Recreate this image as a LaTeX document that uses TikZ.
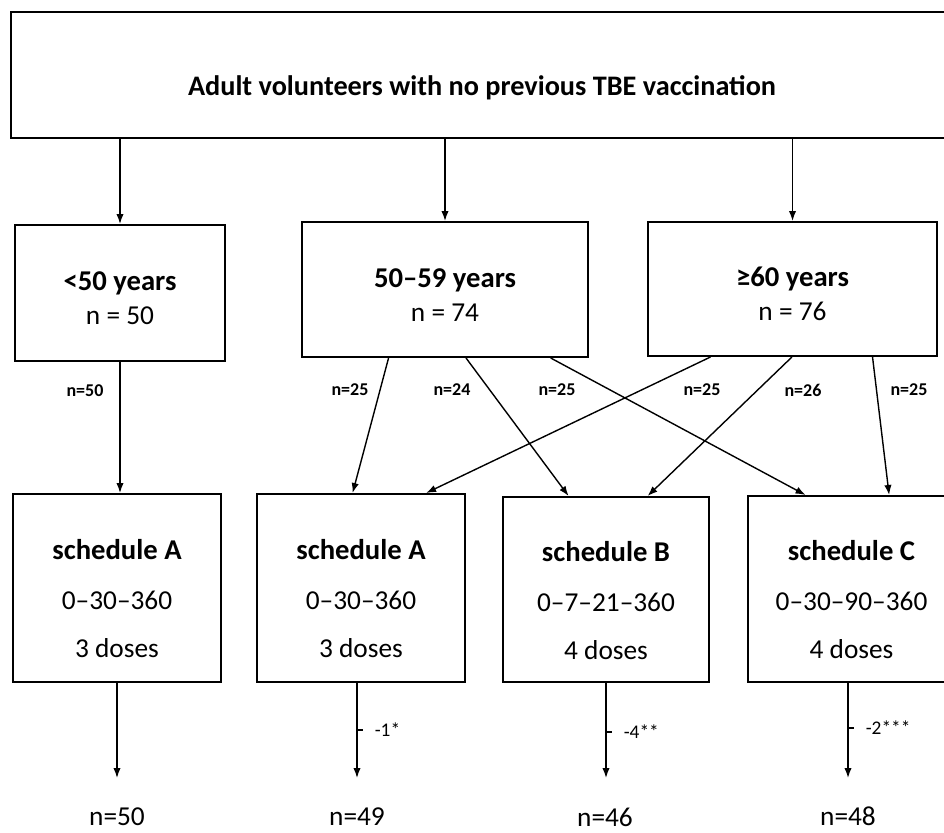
\documentclass[tikz,border=0pt]{standalone}
\usepackage{fontspec}
\setmainfont{Carlito}
\usepackage{tikz}
\usetikzlibrary{arrows.meta,calc}

\newcommand{\hd}[1]{{\fontsize{21.5}{25.5}\selectfont\bfseries #1}}

\begin{document}
\begin{tikzpicture}[x=0.75pt,y=0.75pt,yscale=-1,xscale=1,
	box/.style={draw, line width=1.5pt, inner sep=0pt, align=center},
	arr/.style={-{Latex[length=7.5pt,width=5.5pt]}, line width=1.05pt},
	big/.style={font=\fontsize{20.5}{25.5}\selectfont},
	small/.style={font=\fontsize{13.5}{15}\selectfont\bfseries},
	note/.style={font=\fontsize{14.5}{16}\selectfont}]
		\useasboundingbox (0,0) rectangle (944,832);
		
		%Top box
		\node[box, minimum width=711.75pt, minimum height=94.5pt] (top) at (485.5,75) {};
		% Text Node
		\node[font=\fontsize{21.2}{24}\selectfont\bfseries] (ttl) at (482,87.5) {Adult volunteers with no previous TBE vaccination};
		
		%Age groups
		\node[box, big, minimum width=157.5pt, minimum height=102pt] (young) at (120,293) {\rule{0pt}{22pt}\hd{<50 years}\\n = 50};
		\node[box, big, minimum width=214.5pt, minimum height=101.25pt] (mid) at (445,289.5) {\rule{0pt}{22pt}\hd{50--59 years}\\n = 74};
		\node[box, big, minimum width=216.75pt, minimum height=100.5pt] (old) at (792.5,289) {\rule{0pt}{22pt}\hd{≥60 years}\\n = 76};
		
		%Schedules
		\node[box, big, minimum width=156pt, minimum height=141pt] (schA1) at (117,588) {\rule{0pt}{31pt}\hd{schedule A}\\[12pt]0--30--360\\[10.5pt]3 doses};
		\node[box, big, minimum width=156pt, minimum height=141pt] (schA2) at (361,588) {\rule{0pt}{31pt}\hd{schedule A}\\[12pt]0--30--360\\[10.5pt]3 doses};
		\node[box, big, minimum width=154.5pt, minimum height=138.75pt] (schB) at (606,589.5) {\rule{0pt}{31pt}\hd{schedule B}\\[12pt]0--7--21--360\\[10.5pt]4 doses};
		\node[box, big, minimum width=155.25pt, minimum height=139.5pt] (schC) at (851.5,589) {\rule{0pt}{31pt}\hd{schedule C}\\[12pt]0--30--90--360\\[10.5pt]4 doses};
		
		%Straight Lines from top box
		\draw[arr] (top.south -| young.north) -- (young.north);
		\draw[arr] (top.south -| mid.north) -- (mid.north);
		\draw[arr] (top.south -| old.north) -- (old.north);
		
		%Straight Lines to schedules
		\draw[arr] (young.south) -- (young.south |- schA1.north);
		\draw[arr] ($(mid.south west)!.304!(mid.south east)$) -- ($(schA2.north west)!.46!(schA2.north east)$);
		\draw[arr] ($(mid.south west)!.573!(mid.south east)$) -- ($(schB.north west)!.32!(schB.north east)$);
		\draw[arr] ($(mid.south west)!.867!(mid.south east)$) -- ($(schC.north west)!.28!(schC.north east)$);
		\draw[arr] ($(old.south west)!.218!(old.south east)$) -- ($(schA2.north west)!.81!(schA2.north east)$);
		\draw[arr] ($(old.south west)!.498!(old.south east)$) -- ($(schB.north west)!.70!(schB.north east)$);
		\draw[arr] ($(old.south west)!.775!(old.south east)$) -- ($(schC.north west)!.68!(schC.north east)$);
		
		% Text Node
		\node[small] (n1) at (85,391) {n=50};
		\node[small] (n2) at (350,390) {n=25};
		\node[small] (n3) at (452,390) {n=24};
		\node[small] (n4) at (557,390) {n=25};
		\node[small] (n5) at (702,390) {n=25};
		\node[small] (n6) at (803,390) {n=26};
		\node[small] (n7) at (909,390) {n=25};
		
		%Dropouts
		\coordinate (e1) at (117,778);
		\coordinate (e2) at (357,778);
		\coordinate (e3) at (606,778);
		\coordinate (e4) at (848,778);
		\draw[arr] (schA1.south -| e1) -- (e1);
		\draw[arr] (schA2.south -| e2) -- (e2);
		\draw[arr] (schB.south -| e3) -- (e3);
		\draw[arr] (schC.south -| e4) -- (e4);
		\draw[line width=1.05pt] (357,730) -- ++(6,0) node[note, right=5pt] (d2) {-1*};
		\draw[line width=1.05pt] (606,732) -- ++(6,0) node[note, right=5pt] (d3) {-4**};
		\draw[line width=1.05pt] (848,728) -- ++(6,0) node[note, right=5pt] (d4) {-2***};
		
		% Text Node
		\node[big, anchor=base, inner sep=1pt] (f1) at (117,825) {n=50};
		\node[big, anchor=base, inner sep=1pt] (f2) at (357,825) {n=49};
		\node[big, anchor=base, inner sep=1pt] (f3) at (605,826) {n=46};
		\node[big, anchor=base, inner sep=1pt] (f4) at (848,825) {n=48};
		
\end{tikzpicture}
\end{document}
